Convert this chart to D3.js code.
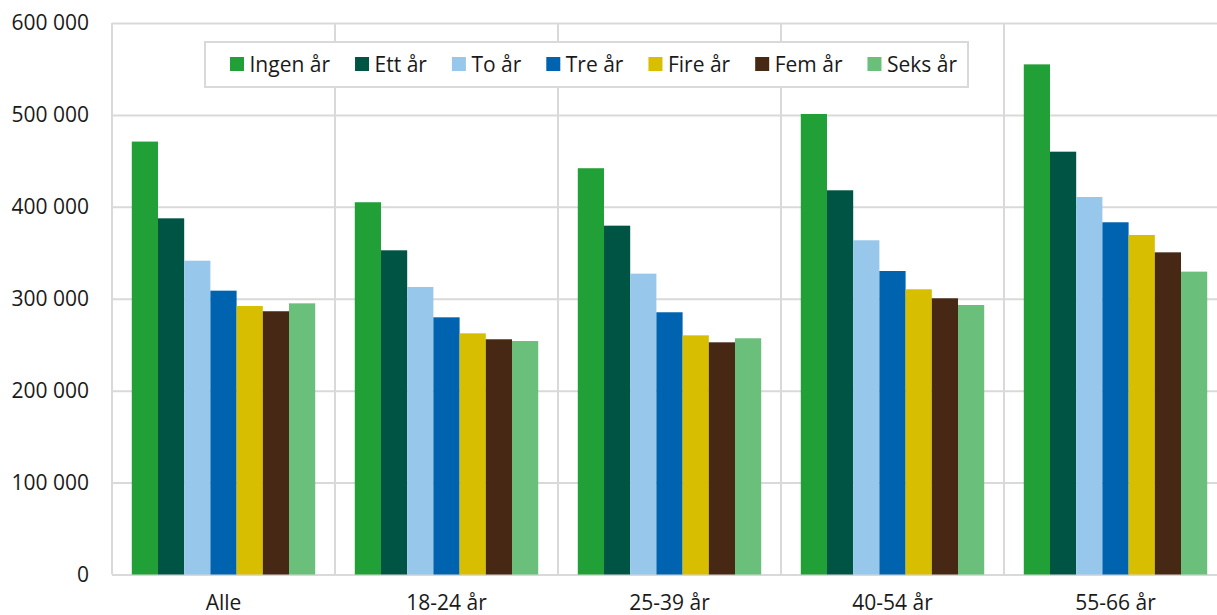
<!DOCTYPE html>
<html>
<head>
<meta charset="utf-8">
<script src="https://cdn.jsdelivr.net/npm/d3@7"></script>
<style>
  body { margin: 0; background: #fff; }
  text { font-family: "Open Sans", sans-serif; fill: #1a1a1a; }
</style>
</head>
<body>
<div id="chart"></div>
<script>
var categories = ['Alle', '18-24 år', '25-39 år', '40-54 år', '55-66 år'];
var seriesNames = ['Ingen år', 'Ett år', 'To år', 'Tre år', 'Fire år', 'Fem år', 'Seks år'];
var seriesColors = ['#21a038', '#005444', '#97c8ec', '#0063af', '#d7bf00', '#472815', '#6abf7a'];

// one array per series, values in the order of categories
var ingenAar = [471000, 405000, 442000, 501000, 555000];
var ettAar   = [387500, 352700, 379500, 418000, 460000];
var toAar    = [341400, 312800, 327300, 363600, 410700];
var treAar   = [308800, 279800, 285300, 330200, 383200];
var fireAar  = [292100, 262400, 260200, 310300, 369400];
var femAar   = [286400, 255900, 252600, 300500, 350500];
var seksAar  = [295000, 254000, 257000, 293200, 329500];
var seriesValues = [ingenAar, ettAar, toAar, treAar, fireAar, femAar, seksAar];

var yTicks = [0, 100000, 200000, 300000, 400000, 500000, 600000];

var width = 1217,
    height = 615,
    plotLeft = 112,
    plotTop = 23,
    plotBottom = 574.5,
    catWidth = 223,
    fontSize = 21,
    gridColor = '#d9d9d9'
;

var svg = d3.select('#chart')
  .append('svg')
    .attr('width', width)
    .attr('height', height);

var x0 = d3.scaleBand()
  .domain(categories)
  .range([plotLeft, plotLeft + catWidth * categories.length])
  .padding(0);

var x1 = d3.scaleBand()
  .domain(seriesNames)
  .range([0, catWidth])
  .paddingInner(0)
  .paddingOuter(0.755);

var y = d3.scaleLinear()
  .domain([0, 600000])
  .range([plotBottom, plotTop]);

function fmt(v) {
  return d3.format(',')(v).replace(/,/g, ' ');
}

// horizontal grid + y labels
var yAxis = d3.axisLeft(y)
  .tickValues(yTicks)
  .tickSize(-(width - plotLeft + 20))
  .tickPadding(23)
  .tickFormat(fmt);

var gy = svg.append('g')
  .attr('transform', 'translate(' + plotLeft + ',0)')
  .call(yAxis);
gy.select('.domain').remove();
gy.selectAll('.tick line')
  .attr('stroke', gridColor)
  .attr('stroke-width', 2);
gy.selectAll('.tick text')
  .attr('font-size', fontSize)
  .attr('fill', '#1a1a1a')
  .attr('font-family', '"Open Sans", sans-serif');

// vertical separators between categories
svg.append('g')
  .selectAll('line')
  .data(categories.concat(['_end']))
  .join('line')
    .attr('x1', function (d, i) { return plotLeft + i * catWidth; })
    .attr('x2', function (d, i) { return plotLeft + i * catWidth; })
    .attr('y1', plotTop)
    .attr('y2', plotBottom)
    .attr('stroke', gridColor)
    .attr('stroke-width', 2);

// bars
var groups = svg.append('g')
  .selectAll('g.cat')
  .data(categories)
  .join('g')
    .classed('cat', true)
    .attr('transform', function (d) { return 'translate(' + x0(d) + ',0)'; });

groups.selectAll('rect')
  .data(function (c, ci) {
    return seriesNames.map(function (s, si) {
      return {series: s, value: seriesValues[si][ci], color: seriesColors[si]};
    });
  })
  .join('rect')
    .attr('x', function (d) { return x1(d.series); })
    .attr('width', x1.bandwidth())
    .attr('y', function (d) { return y(d.value); })
    .attr('height', function (d) { return plotBottom - y(d.value); })
    .attr('fill', function (d) { return d.color; });

// x labels
var xAxis = d3.axisBottom(x0).tickSize(0).tickPadding(21);
var gx = svg.append('g')
  .attr('transform', 'translate(0,' + plotBottom + ')')
  .call(xAxis);
gx.select('.domain').remove();
gx.selectAll('.tick text')
  .attr('font-size', fontSize)
  .attr('fill', '#1a1a1a')
  .attr('font-family', '"Open Sans", sans-serif');

// legend
var legend = svg.append('g');
legend.append('rect')
  .attr('x', 205)
  .attr('y', 42)
  .attr('width', 763)
  .attr('height', 45)
  .attr('fill', '#fff')
  .attr('stroke', gridColor)
  .attr('stroke-width', 2);

var lx = 230;
seriesNames.forEach(function (s, i) {
  legend.append('rect')
    .attr('x', lx)
    .attr('y', 57)
    .attr('width', 14)
    .attr('height', 14)
    .attr('fill', seriesColors[i]);
  var t = legend.append('text')
    .attr('x', lx + 19.5)
    .attr('y', 64)
    .attr('dy', '0.36em')
    .attr('font-size', fontSize)
    .text(s);
  lx += 19.5 + t.node().getComputedTextLength() + 25;
});
</script>
</body>
</html>
